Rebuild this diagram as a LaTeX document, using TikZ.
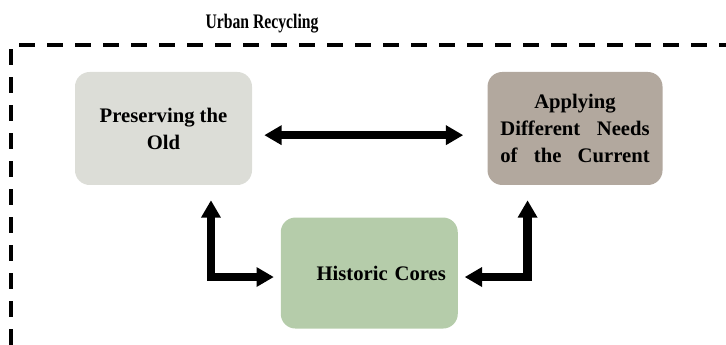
\documentclass[tikz,border=0pt]{standalone}
\usepackage{fontspec}
\setmainfont{Liberation Serif}
\newfontfamily\titlefont[FakeStretch=0.76]{Liberation Serif}
\usepackage{xcolor}
\usetikzlibrary{arrows.meta,positioning,calc}
\definecolor{oldgray}{HTML}{DCDDD7}
\definecolor{currtaupe}{HTML}{B2A89E}
\definecolor{coregreen}{HTML}{B5CCAA}
\tikzset{
  blockbox/.style={
    fill=#1, draw=none, rounded corners=11pt,
    font=\fontsize{15.5}{20.25}\selectfont\bfseries, align=center,
    inner sep=0pt, minimum width=132.75pt, minimum height=84.75pt,
  },
  fatarrow/.style={{Triangle[length=13pt,width=14pt]}-{Triangle[length=13pt,width=14pt]},
    line width=6.5pt, black},
  framedash/.style={line width=3pt, dash pattern=on 12pt off 9pt, black},
}

\begin{document}
\begin{tikzpicture}[x=0.75pt,y=-0.75pt]
  \useasboundingbox (0,0) rectangle (726,345);

  \node[font=\titlefont\fontsize{15.5}{17}\selectfont\bfseries] (title) at (262,24) {Urban Recycling};
  \draw[framedash] (11,345) -- (11,45) -- (726,45);

  \node[blockbox=oldgray] (old) at (163.5,128.5) {Preserving the\\Old};

  \node[blockbox=currtaupe, minimum width=131.25pt, right=176.25pt of old] (current)
    {Applying\\\makebox[112pt][s]{Different Needs}\\\makebox[112pt][s]{of the Current}};

  \coordinate (mid) at ($(old.south)!0.5!(current.south)$);
  \node[blockbox=coregreen, minimum height=83.25pt, text width=115pt, align=right,
        below=24pt of mid] (cores) {\raisebox{-4pt}{Historic Cores}};

  \draw[fatarrow] ([xshift=9pt,yshift=-5pt]old.east) -- ([xshift=-18pt,yshift=-5pt]current.west);
  \draw[fatarrow] ([xshift=-5pt,yshift=-3pt]cores.west) -| ([xshift=35.6pt,yshift=-11.25pt]old.south);
  \draw[fatarrow] ([xshift=5pt,yshift=-3pt]cores.east) -| ([xshift=-35.6pt,yshift=-11.25pt]current.south);

\end{tikzpicture}
\end{document}
